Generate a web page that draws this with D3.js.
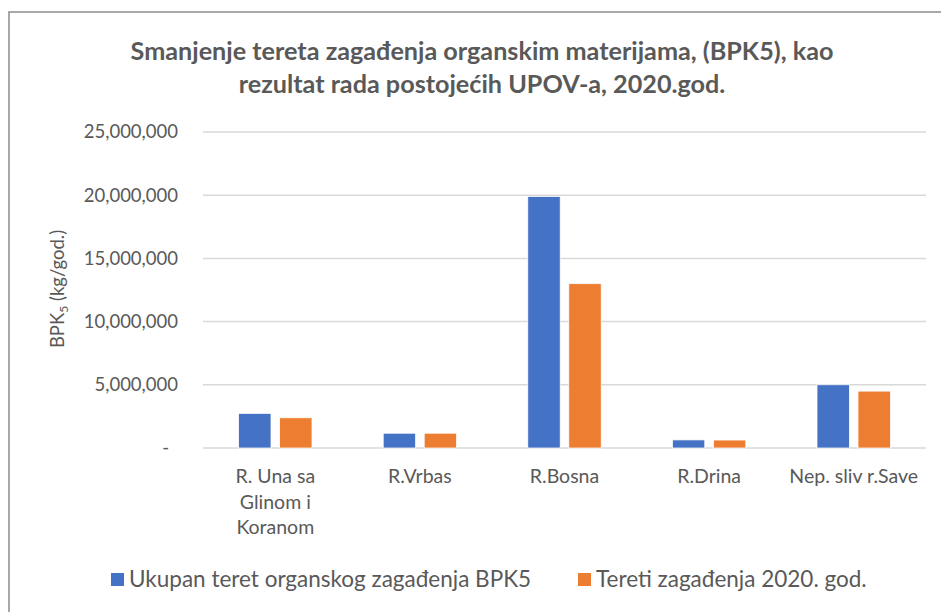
<!DOCTYPE html>
<html>
<head>
<meta charset="utf-8">
<script src="https://cdn.jsdelivr.net/npm/d3@7"></script>
<style>
  body { margin: 0; background: #fff; }
  text { font-family: Lato, "Open Sans", sans-serif; fill: #595959; }
</style>
</head>
<body>
<script>
// chart data
var categories = [["R. Una sa", "Glinom i", "Koranom"], ["R.Vrbas"], ["R.Bosna"], ["R.Drina"], ["Nep. sliv r.Save"]];
var seriesNames = ["Ukupan teret organskog zagađenja BPK5", "Tereti zagađenja 2020. god."];
var totalLoad = [2740000, 1170000, 19900000, 640000, 5000000];
var load2020 = [2390000, 1170000, 13000000, 630000, 4500000];
var yTicks = [0, 5000000, 10000000, 15000000, 20000000, 25000000];
var colors = ["#4472C4", "#ED7D31"];

var W = 941, H = 612;
var margin = {top: 132, right: 15, bottom: 164, left: 203};
var width = W - margin.left - margin.right,
    height = H - margin.top - margin.bottom;

var svg = d3.select("body").append("svg")
    .attr("width", W)
    .attr("height", H);

// chart frame
svg.append("rect")
    .attr("x", 9).attr("y", 12)
    .attr("width", W).attr("height", H)
    .attr("fill", "none")
    .attr("stroke", "#8c8c8c")
    .attr("stroke-width", 1.5);

// title
var title = svg.append("text")
    .attr("text-anchor", "middle")
    .style("font-weight", "bold")
    .style("font-size", "25.2px");
title.append("tspan").attr("x", 482).attr("y", 60)
    .text("Smanjenje tereta zagađenja organskim materijama, (BPK5), kao");
title.append("tspan").attr("x", 482).attr("y", 93)
    .text("rezultat rada postojećih UPOV-a, 2020.god.");

var g = svg.append("g")
    .attr("transform", "translate(" + margin.left + "," + margin.top + ")");

var keys = categories.map(function(d) { return d.join(" "); });

var x0 = d3.scaleBand().domain(keys).range([0, width]).padding(0);
var groupW = 73.4;
var x1 = d3.scaleBand().domain([0, 1])
    .range([x0.bandwidth() / 2 - groupW / 2, x0.bandwidth() / 2 + groupW / 2])
    .paddingInner(0.21);

var y = d3.scaleLinear().domain([0, 25000000]).range([height, 0]);

// gridlines
g.append("g")
  .selectAll("line")
    .data(yTicks)
  .enter().append("line")
    .attr("x1", 0).attr("x2", width)
    .attr("y1", function(d) { return y(d); })
    .attr("y2", function(d) { return y(d); })
    .attr("stroke", "#d9d9d9")
    .attr("stroke-width", 1.5);

// y axis labels
var yAxis = d3.axisLeft(y)
    .tickValues(yTicks)
    .tickSize(0)
    .tickPadding(25)
    .tickFormat(function(d) { return d === 0 ? "-" : d3.format(",")(d); });

var ya = g.append("g").call(yAxis);
ya.select(".domain").remove();
ya.selectAll("text")
    .style("font-size", "18.5px")
    .attr("fill", "#595959")
    .style("font-family", "Lato, sans-serif")
    .attr("dx", function(d) { return d === 0 ? -9 : 0; });

// y axis title
var yt = svg.append("text")
    .attr("transform", "translate(64,289) rotate(-90)")
    .attr("text-anchor", "middle")
    .style("font-size", "18.5px");
yt.append("tspan").text("BPK");
yt.append("tspan").attr("dy", 4).style("font-size", "12px").text("5");
yt.append("tspan").attr("dy", -4).text(" (kg/god.)");

// bars
var rows = keys.map(function(k, i) { return {key: k, values: [totalLoad[i], load2020[i]]}; });

var grp = g.selectAll(".grp")
    .data(rows)
  .enter().append("g")
    .attr("class", "grp")
    .attr("transform", function(d) { return "translate(" + x0(d.key) + ",0)"; });

grp.selectAll("rect")
    .data(function(d) { return d.values.map(function(v, i) { return {s: i, v: v}; }); })
  .enter().append("rect")
    .attr("x", function(d) { return x1(d.s); })
    .attr("width", x1.bandwidth())
    .attr("y", function(d) { return y(d.v); })
    .attr("height", function(d) { return height - y(d.v); })
    .attr("fill", function(d) { return colors[d.s]; })
    .attr("stroke", "#fff")
    .attr("stroke-width", 0.75);

// category labels
var cl = g.selectAll(".cat")
    .data(categories)
  .enter().append("text")
    .attr("class", "cat")
    .attr("text-anchor", "middle")
    .style("font-size", "19.5px");
cl.selectAll("tspan")
    .data(function(d, i) { return d.map(function(t) { return {t: t, k: keys[i]}; }); })
  .enter().append("tspan")
    .attr("x", function(d) { return x0(d.k) + x0.bandwidth() / 2; })
    .attr("y", function(d, j) { return height + 35 + j * 25.5; })
    .text(function(d) { return d.t; });

// legend
var legX = [111, 578];
var leg = svg.selectAll(".leg")
    .data(seriesNames)
  .enter().append("g")
    .attr("class", "leg")
    .attr("transform", function(d, i) { return "translate(" + legX[i] + ",573)"; });
leg.append("rect")
    .attr("width", 13).attr("height", 13)
    .attr("fill", function(d, i) { return colors[i]; });
leg.append("text")
    .attr("x", 18).attr("y", 14)
    .style("font-size", "22.5px")
    .text(function(d) { return d; });
</script>
</body>
</html>
